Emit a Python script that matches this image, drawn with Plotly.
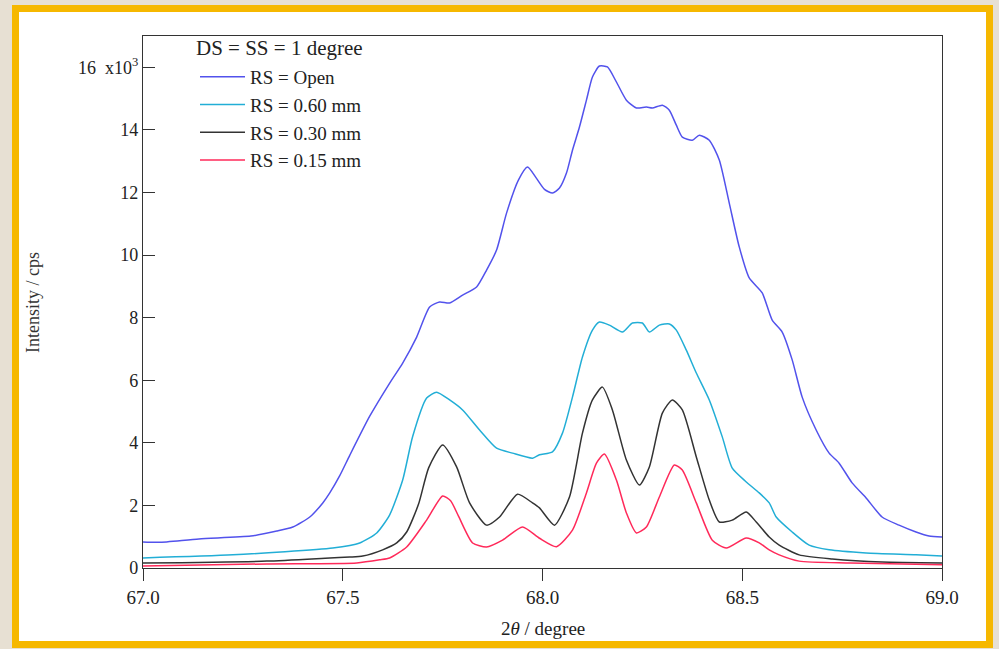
import plotly.graph_objects as go

# 2theta positions (degree) and intensities (x10^3 cps) for each receiving-slit setting
two_theta_open = [67.00, 67.04, 67.14, 67.27, 67.335, 67.375, 67.4175, 67.45, 67.4675, 67.4925,
                  67.5175, 67.5675, 67.6175, 67.65, 67.685, 67.7175, 67.7425, 67.7675, 67.80, 67.835,
                  67.86, 67.885, 67.91, 67.94, 67.9625, 67.985, 68.005, 68.025, 68.0425, 68.06,
                  68.075, 68.0925, 68.11, 68.125, 68.1425, 68.1625, 68.185, 68.21, 68.235, 68.26,
                  68.275, 68.30, 68.3175, 68.335, 68.35, 68.375, 68.3925, 68.4175, 68.4425, 68.4675,
                  68.4925, 68.5175, 68.55, 68.575, 68.60, 68.625, 68.65, 68.685, 68.7175, 68.7425,
                  68.775, 68.81, 68.85, 68.8925, 68.935, 68.9675, 69.00]
intensity_open = [0.83, 0.82, 0.93, 1.02, 1.18, 1.31, 1.63, 2.08, 2.40, 2.95,
                  3.60, 4.85, 5.91, 6.55, 7.38, 8.34, 8.50, 8.47, 8.72, 8.98,
                  9.52, 10.16, 11.34, 12.40, 12.81, 12.45, 12.10, 11.98, 12.14, 12.62,
                  13.35, 14.09, 14.95, 15.69, 16.04, 16.01, 15.53, 14.95, 14.70, 14.73,
                  14.70, 14.79, 14.63, 14.15, 13.77, 13.67, 13.83, 13.67, 13.04, 11.66,
                  10.26, 9.27, 8.79, 7.92, 7.54, 6.65, 5.46, 4.41, 3.67, 3.35,
                  2.72, 2.24, 1.63, 1.37, 1.15, 1.02, 0.99]

two_theta_060 = [67.00, 67.225, 67.475, 67.5425, 67.585, 67.6175, 67.65, 67.675, 67.71, 67.735,
                 67.7675, 67.80, 67.8425, 67.885, 67.925, 67.975, 67.9925, 68.025, 68.05, 68.075,
                 68.10, 68.125, 68.1425, 68.1675, 68.20, 68.225, 68.25, 68.2675, 68.2925, 68.3175,
                 68.335, 68.36, 68.385, 68.4175, 68.45, 68.475, 68.51, 68.5425, 68.5675, 68.585,
                 68.625, 68.6675, 68.7175, 68.81, 68.935, 69.00]
intensity_060 = [0.32, 0.42, 0.64, 0.80, 1.12, 1.70, 2.81, 4.20, 5.43, 5.62,
                 5.37, 5.05, 4.41, 3.83, 3.67, 3.51, 3.62, 3.71, 4.31, 5.46,
                 6.74, 7.60, 7.86, 7.76, 7.54, 7.83, 7.83, 7.54, 7.76, 7.80,
                 7.60, 6.96, 6.23, 5.37, 4.19, 3.19, 2.75, 2.40, 2.08, 1.63,
                 1.15, 0.73, 0.58, 0.48, 0.42, 0.38]

two_theta_030 = [67.00, 67.31, 67.4675, 67.5175, 67.55, 67.60, 67.635, 67.66, 67.69, 67.715,
                 67.75, 67.785, 67.8175, 67.86, 67.8925, 67.9375, 67.975, 67.9925, 68.03,
                 68.0675, 68.10, 68.125, 68.15, 68.175, 68.21, 68.2425, 68.2675, 68.30, 68.325,
                 68.35, 68.385, 68.4175, 68.4425, 68.475, 68.51, 68.535, 68.5675, 68.5925, 68.6425,
                 68.725, 68.85, 69.00]
intensity_030 = [0.16, 0.22, 0.32, 0.35, 0.38, 0.58, 0.80, 1.15, 2.05, 3.20,
                 3.93, 3.23, 2.08, 1.37, 1.63, 2.36, 2.08, 1.92, 1.37,
                 2.27, 4.31, 5.37, 5.78, 5.05, 3.45, 2.65, 3.23, 4.95, 5.37,
                 5.05, 3.55, 2.17, 1.47, 1.53, 1.79, 1.47, 0.99, 0.73, 0.42,
                 0.29, 0.19, 0.16]

two_theta_015 = [67.00, 67.31, 67.535, 67.5925, 67.6175, 67.66, 67.71, 67.75, 67.77, 67.79,
                 67.825, 67.86, 67.90, 67.95, 67.9925, 68.035, 68.075, 68.11, 68.135, 68.155,
                 68.185, 68.21, 68.235, 68.26, 68.2925, 68.33, 68.35, 68.385, 68.425, 68.46,
                 68.51, 68.5425, 68.5675, 68.5925, 68.6425, 68.77, 69.00]
intensity_015 = [0.06, 0.13, 0.16, 0.26, 0.32, 0.67, 1.53, 2.30, 2.15, 1.65,
                 0.80, 0.67, 0.89, 1.31, 0.95, 0.68, 1.21, 2.40, 3.35, 3.64,
                 2.81, 1.76, 1.12, 1.31, 2.27, 3.29, 3.13, 2.08, 0.89, 0.64,
                 0.96, 0.80, 0.58, 0.42, 0.22, 0.16, 0.10]

series_names = ["RS = Open", "RS = 0.60 mm", "RS = 0.30 mm", "RS = 0.15 mm"]
series_colors = ["#5252ec", "#22aed6", "#333333", "#ff2a5a"]
legend_heading = "DS = SS = 1 degree"

y_tick_vals = [0, 2, 4, 6, 8, 10, 12, 14, 16]
y_tick_text = ["0", "2", "4", "6", "8", "10", "12", "14", "16\u00a0\u00a0x10<sup>3</sup>"]
x_tick_vals = [67.0, 67.5, 68.0, 68.5, 69.0]
x_tick_text = ["67.0", "67.5", "68.0", "68.5", "69.0"]

SERIF = "Liberation Serif, Times New Roman, serif"
INK = "#222222"

fig = go.Figure()
all_x = [two_theta_open, two_theta_060, two_theta_030, two_theta_015]
all_y = [intensity_open, intensity_060, intensity_030, intensity_015]
for xs, ys, name, color in zip(all_x, all_y, series_names, series_colors):
    fig.add_trace(go.Scatter(
        x=xs, y=ys, mode="lines", name=name,
        line=dict(color=color, width=1.5, shape="spline", smoothing=0.6),
    ))

# plot area in pixels: x 143..942, y 36..568 (figure 999 x 649)
L, R, T, B = 143, 942, 36, 568
W, H = R - L, B - T


def px_to_paper_x(px):
    return (px - L) / W


def px_to_paper_y(py):
    return (B - py) / H


# white card with a yellow frame behind everything
fig.add_shape(
    type="rect", xref="paper", yref="paper", layer="below",
    x0=px_to_paper_x(15.5), x1=px_to_paper_x(989.5),
    y0=px_to_paper_y(644.5), y1=px_to_paper_y(8.5),
    fillcolor="white", line=dict(color="#f6b800", width=7),
)

# heading above the legend entries
fig.add_annotation(
    text=legend_heading, xref="paper", yref="paper",
    x=px_to_paper_x(194), y=px_to_paper_y(48),
    showarrow=False, font=dict(family=SERIF, size=21, color=INK),
    xanchor="left", yanchor="middle",
)

fig.add_annotation(
    text="Intensity / cps", xref="paper", yref="paper",
    x=px_to_paper_x(33), y=px_to_paper_y(302), textangle=-90,
    showarrow=False, font=dict(family=SERIF, size=18, color="#333333"),
    xanchor="center", yanchor="middle",
)
fig.add_annotation(
    text="2<i>θ</i> / degree", xref="paper", yref="paper",
    x=px_to_paper_x(543), y=px_to_paper_y(628),
    showarrow=False, font=dict(family=SERIF, size=19, color=INK),
    xanchor="center", yanchor="middle",
)

fig.update_layout(
    width=999, height=649,
    margin=dict(l=L, r=999 - R, t=T, b=649 - B),
    paper_bgcolor="#e7e0d3",
    plot_bgcolor="white",
    showlegend=True,
    legend=dict(
        x=px_to_paper_x(195), y=px_to_paper_y(58), xanchor="left", yanchor="top",
        bgcolor="rgba(0,0,0,0)", borderwidth=0,
        font=dict(family=SERIF, size=19, color=INK),
        itemwidth=45, tracegroupgap=0,
    ),
    xaxis=dict(
        range=[67.0, 69.0], tickvals=x_tick_vals, ticktext=x_tick_text,
        ticks="outside", ticklen=12, tickwidth=1.2, tickcolor="#333333",
        showline=True, linecolor="#333333", linewidth=1.2, mirror=True,
        showgrid=False, zeroline=False,
        tickfont=dict(family=SERIF, size=19, color=INK),
    ),
    yaxis=dict(
        range=[0, 17], tickvals=y_tick_vals, ticktext=y_tick_text,
        ticks="inside", ticklen=12, tickwidth=1.2, tickcolor="#333333",
        showline=True, linecolor="#333333", linewidth=1.2, mirror=True,
        showgrid=False, zeroline=False,
        tickfont=dict(family=SERIF, size=18, color=INK),
    ),
)

fig.write_html("out.html")
